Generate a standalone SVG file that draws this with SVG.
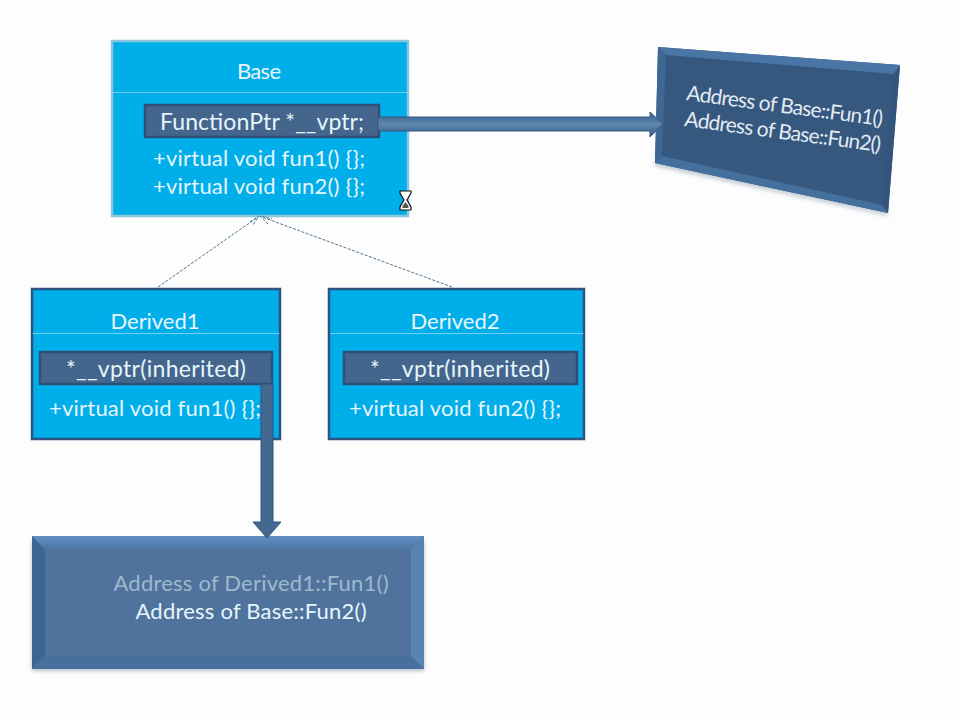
<svg xmlns="http://www.w3.org/2000/svg" width="960" height="720" viewBox="0 0 960 720">
<style>
text{font-family:"Lato","Carlito","Open Sans",sans-serif;fill:#e6f6fc;font-size:22px;text-anchor:middle}
.uml{fill:#00aeea;stroke:#2c5480;stroke-width:2.5}
.sep{stroke:#6fd0f0;stroke-width:1.2;fill:none}
.field{fill:#44658c;stroke:#2f4f78;stroke-width:2.5}
.left{text-anchor:start}
.dash{stroke:#4d7590;stroke-width:1;stroke-dasharray:3 1.5;fill:none}
</style>
<defs>
<filter id="shadow" x="-5%" y="-5%" width="110%" height="115%"><feGaussianBlur stdDeviation="2"/></filter>
<linearGradient id="arrowH" x1="0" y1="0" x2="0" y2="1"><stop offset="0" stop-color="#2f5f90"/><stop offset="0.5" stop-color="#5f86ad"/><stop offset="1" stop-color="#2f5a88"/></linearGradient>
<linearGradient id="bevelTop" x1="0" y1="0" x2="0" y2="1"><stop offset="0" stop-color="#5f8fc4"/><stop offset="1" stop-color="#4a74a0"/></linearGradient>
</defs>
<rect width="960" height="720" fill="#fdfdfe"/>

<g id="node-base">
<rect x="112" y="41" width="296" height="175" fill="#00aeea" stroke="#8cc6dc" stroke-width="2.5"/>
<path class="sep" d="M113 92.500H407"/>
<text x="259" y="79" textLength="44">Base</text>
<rect class="field" x="145" y="105" width="234" height="32"/>
<text x="262" y="130" textLength="204" style="font-size:23px">FunctionPtr *__vptr;</text>
<text class="left" x="153" y="166" textLength="212">+virtual void fun1() {};</text>
<text class="left" x="153" y="194" textLength="212">+virtual void fun2() {};</text>
</g>

<g id="node-derived1">
<rect class="uml" x="32" y="289" width="248" height="150"/>
<path class="sep" d="M33 333.500H279"/>
<text x="155" y="329" textLength="89">Derived1</text>
<rect class="field" x="40" y="352" width="232" height="32"/>
<text x="156" y="377" textLength="180" style="font-size:23px">*__vptr(inherited)</text>
<text class="left" x="49" y="416" textLength="212">+virtual void fun1() {};</text>
</g>

<g id="node-derived2">
<rect class="uml" x="329" y="289" width="255" height="150"/>
<path class="sep" d="M330 333.500H583"/>
<text x="455" y="329" textLength="89">Derived2</text>
<rect class="field" x="344" y="352" width="233" height="32"/>
<text x="460" y="377" textLength="180" style="font-size:23px">*__vptr(inherited)</text>
<text class="left" x="349" y="416" textLength="212">+virtual void fun2() {};</text>
</g>

<g id="node-vtable-base">
<path d="M656 160L887 211L889 216L654 166Z" fill="#9aa7b5" opacity="0.6" filter="url(#shadow)"/>
<polygon points="658,47 900,65 888,213 655,163" fill="#36587f"/>
<polygon points="658,47 900,65 894,74 666,55" fill="#4a76a5"/>
<polygon points="658,47 666,55 662,156 655,163" fill="#3f6794"/>
<polygon points="900,65 894,74 882,205 888,213" fill="#33557d"/>
<polygon points="655,163 662,156 882,205 888,213" fill="#456f9d"/>
<text transform="translate(784,113) rotate(7.500)" textLength="198" style="fill:#e3ebf3;font-size:21px">Address of Base::Fun1()</text>
<text transform="translate(782,139) rotate(7.500)" textLength="198" style="fill:#e3ebf3;font-size:21px">Address of Base::Fun2()</text>
</g>

<g id="node-vtable-derived1">
<rect x="32" y="541" width="392" height="130" fill="#8d98a3" opacity="0.6" filter="url(#shadow)"/>
<rect x="32" y="536" width="392" height="133" fill="#4f739d"/>
<polygon points="32,536 424,536 411,550 45,550" fill="url(#bevelTop)"/>
<polygon points="32,536 45,550 45,656 32,669" fill="#3f6591"/>
<polygon points="424,536 411,550 411,656 424,669" fill="#5a84b0"/>
<polygon points="32,669 45,656 411,656 424,669" fill="#47709e"/>
<text x="251" y="591" textLength="275" style="fill:#9fb9cc">Address of Derived1::Fun1()</text>
<text x="251" y="619" textLength="231">Address of Base::Fun2()</text>
</g>

<g id="connectors">
<path class="dash" d="M158 287L258 217"/>
<path class="dash" d="M452 287L262 217"/>
<path class="dash" d="M250 222L259 216L253 225M268 224L260 216L272 219"/>
<path d="M378 117H650V112L663 124L650 137V131H378Z" fill="url(#arrowH)" stroke="#34597f" stroke-width="1"/>
<path d="M261 384H273V522H281L267 538L253 522H261Z" fill="#44688f" stroke="#2f5580" stroke-width="1"/>
</g>

<g id="cursor">
<path d="M400 191H411V193L407 200L411 207V210H400V207L404 200L400 193Z" fill="#fff" stroke="#111" stroke-width="1.200"/>
<path d="M402.500 206L405.500 202L408.500 206V208H402.500Z" fill="#555"/>
</g>
</svg>
